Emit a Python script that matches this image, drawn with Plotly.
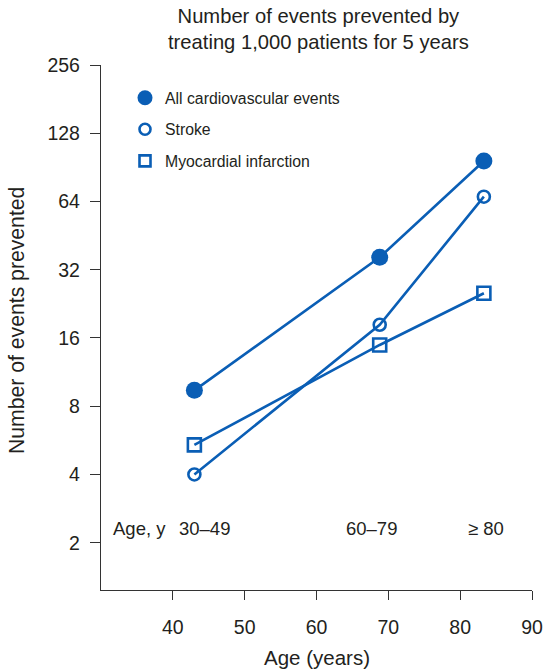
import math
import plotly.graph_objects as go

# ---- data ----
age_x = [43.0, 68.8, 83.3]            # x position (years) of each age group
all_cv = [9.4, 36.3, 96.6]            # All cardiovascular events
stroke = [4.0, 18.3, 67.2]            # Stroke
mi = [5.4, 14.9, 25.2]                # Myocardial infarction
series_names = ["All cardiovascular events", "Stroke", "Myocardial infarction"]
y_ticks = [2, 4, 8, 16, 32, 64, 128, 256]
x_ticks = [40, 50, 60, 70, 80, 90]
age_group_labels = ["Age, y", "30–49", "60–79", "≥ 80"]

BLUE = "#0A5EB5"
TXT = "#231f20"
FONT = "Liberation Sans, Arial, sans-serif"

W, H = 543, 670
# plot area in page pixels: x 101..532, y 65..590
PL, PR, PT, PB = 101, 532, 65, 590
L, R, T, B = PL, W - PR, PT, H - PB
pw, ph = PR - PL, PB - PT


def px_x(p):
    return (p - PL) / pw


def px_y(p):
    return (PB - p) / ph


fig = go.Figure()

styles = [
    dict(symbol="circle", size=17, color=BLUE, line=dict(width=0)),
    dict(symbol="circle-open", size=12, color=BLUE, line=dict(width=2.6, color=BLUE)),
    dict(symbol="square-open", size=13, color=BLUE, line=dict(width=2.6, color=BLUE)),
]
legend_styles = [
    dict(symbol="circle", size=15, color=BLUE, line=dict(width=0)),
    dict(symbol="circle-open", size=11, color=BLUE, line=dict(width=2.6, color=BLUE)),
    dict(symbol="square-open", size=11, color=BLUE, line=dict(width=2.6, color=BLUE)),
]

for name, ys, st, lst in zip(series_names, [all_cv, stroke, mi], styles, legend_styles):
    fig.add_trace(go.Scatter(
        x=age_x, y=ys, mode="lines+markers", name=name,
        line=dict(color=BLUE, width=2.6), marker=st,
        showlegend=False, cliponaxis=False,
    ))
    fig.add_trace(go.Scatter(
        x=[None], y=[None], mode="markers", name=name, marker=lst,
        showlegend=True, legendgroup=name,
    ))

annotations = [
    dict(text="Number of events prevented by<br>treating 1,000 patients for 5 years",
         xref="paper", yref="paper", x=px_x(318), y=px_y(29),
         xanchor="center", yanchor="middle", showarrow=False,
         font=dict(size=20.2, color=TXT, family=FONT)),
    dict(text="Number of events prevented",
         xref="paper", yref="paper", x=px_x(17), y=px_y(321),
         xanchor="center", yanchor="middle", showarrow=False, textangle=-90,
         font=dict(size=21.2, color=TXT, family=FONT)),
    dict(text="Age (years)",
         xref="paper", yref="paper", x=px_x(317), y=px_y(657),
         xanchor="center", yanchor="middle", showarrow=False,
         font=dict(size=20.5, color=TXT, family=FONT)),
]
for lab, cx in zip(age_group_labels, [139.5, 204, 371.7, 485.7]):
    annotations.append(dict(
        text=lab, xref="paper", yref="paper", x=px_x(cx), y=px_y(528),
        xanchor="center", yanchor="middle", showarrow=False,
        font=dict(size=18.5, color=TXT, family=FONT)))

fig.update_layout(
    width=W, height=H,
    margin=dict(l=L, r=R, t=T, b=B, autoexpand=False),
    paper_bgcolor="white", plot_bgcolor="white",
    font=dict(family=FONT, color=TXT),
    showlegend=True,
    legend=dict(x=px_x(125), y=px_y(81), xanchor="left", yanchor="top",
                bgcolor="rgba(0,0,0,0)", borderwidth=0,
                font=dict(size=15.8, color=TXT, family=FONT),
                tracegroupgap=8, itemsizing="trace"),
    annotations=annotations,
    xaxis=dict(range=[30, 90], tickvals=x_ticks, ticktext=[str(v) for v in x_ticks],
               showline=True, linecolor="#333", linewidth=1.3, mirror=False,
               ticks="outside", ticklen=9, tickwidth=1.2, tickcolor="#333",
               showgrid=False, zeroline=False, ticklabelstandoff=10, automargin=False,
               tickfont=dict(size=19.5, color=TXT, family=FONT)),
    yaxis=dict(type="log", range=[math.log10(1.237), math.log10(256)],
               tickvals=y_ticks, ticktext=[str(v) for v in y_ticks],
               showline=True, linecolor="#333", linewidth=1.3, mirror=False,
               ticks="outside", ticklen=10, tickwidth=1.2, tickcolor="#333",
               showgrid=False, zeroline=False, ticklabelstandoff=6, automargin=False,
               tickfont=dict(size=19.5, color=TXT, family=FONT)),
)

# remove the browser's default 8px body margin so page pixels match figure pixels
fig.write_html("out.html", config={"displayModeBar": False},
               post_script="document.body.style.margin='0px';")
